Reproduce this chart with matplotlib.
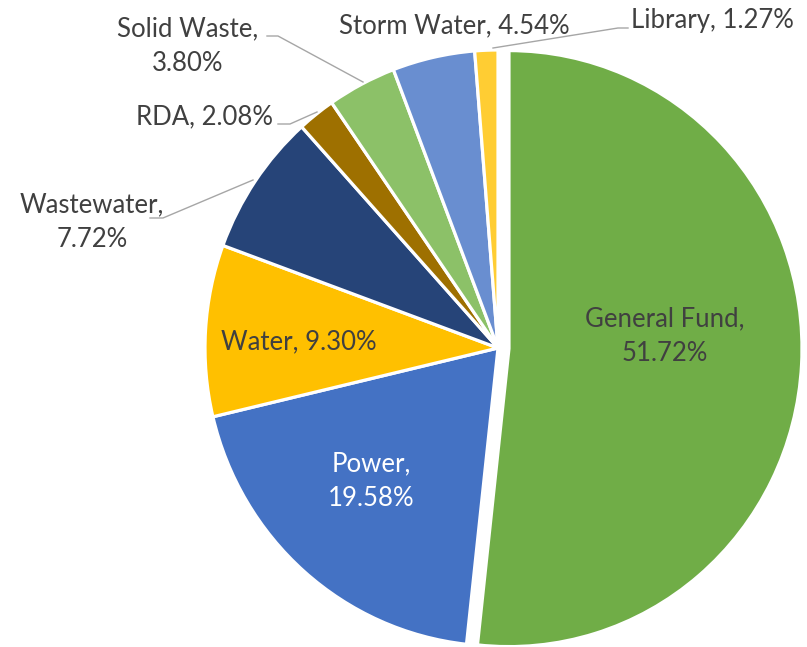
import matplotlib.pyplot as plt

funds = ['General Fund', 'Power', 'Water', 'Wastewater', 'RDA',
         'Solid Waste', 'Storm Water', 'Library']
shares = [51.72, 19.58, 9.30, 7.72, 2.08, 3.80, 4.54, 1.27]
colors = ['#70AD47', '#4472C4', '#FFC000', '#264478', '#9E7000',
          '#8CC168', '#698ED0', '#FFCD33']

plt.rcParams['font.family'] = ['Lato', 'DejaVu Sans']

fig = plt.figure(figsize=(8.07, 6.47), dpi=100)
ax = fig.add_axes([0, 0, 1, 1])

W, H = 807, 647
R = 293
sy = 293 / 298  # the reference pie is a touch taller than wide


def Y(y_px):
    return (H - y_px) * sy


# explode offset is in data units (pixels here), not scaled by radius
explode = [11, 0, 0, 0, 0, 0, 0, 0]
ax.pie(shares, colors=colors, startangle=90, counterclock=False,
       radius=R, center=(498, Y(348)), explode=explode,
       wedgeprops=dict(edgecolor='white', linewidth=2.3))

ax.set_xlim(0, W)
ax.set_ylim(0, H * sy)
ax.set_aspect('auto')
ax.axis('off')

txt = '#404040'
fs = 18.5


def lab(x, y, s, color=txt):
    ax.text(x, Y(y), s, ha='center', va='center', fontsize=fs,
            color=color, linespacing=1.5)


lab(665, 336, 'General Fund,\n51.72%')
lab(371, 481, 'Power,\n19.58%', color='white')
lab(299, 342, 'Water, 9.30%')
lab(92, 222, 'Wastewater,\n7.72%')
lab(205, 117, 'RDA, 2.08%')
lab(188, 46, 'Solid Waste,\n3.80%')
lab(454, 26, 'Storm Water, 4.54%')
lab(712, 21, 'Library, 1.27%')

# leader lines
leaders = [
    [(150, 218), (163, 218), (253, 180)],
    [(278, 124), (290, 124), (317, 112)],
    [(267, 36), (278, 36), (363, 82)],
    [(628, 28), (618, 28), (493, 48)],
]
for pts in leaders:
    ax.plot([p[0] for p in pts], [Y(p[1]) for p in pts],
            color='#A6A6A6', linewidth=1)

fig.savefig('out.png', dpi=100)
